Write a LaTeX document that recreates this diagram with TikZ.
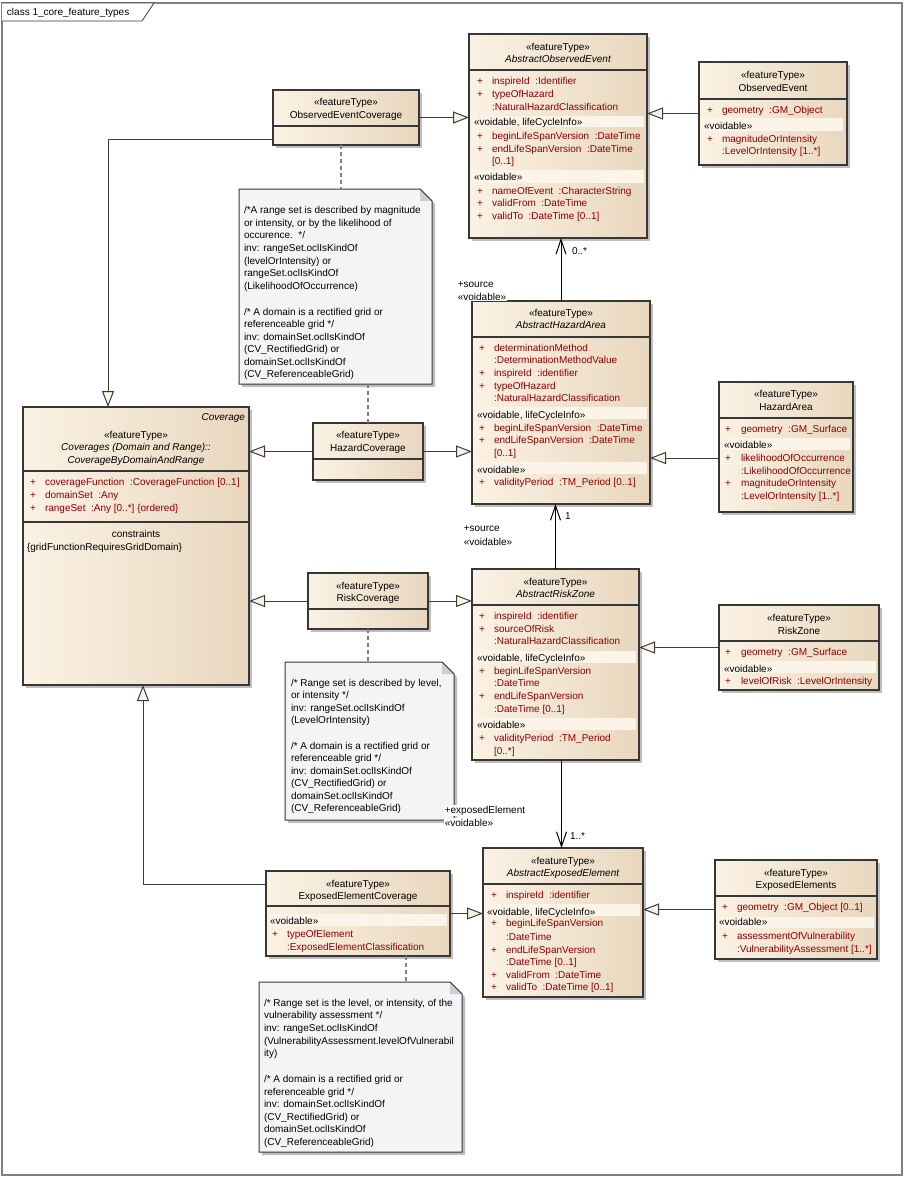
\documentclass[tikz,border=0pt]{standalone}
\usepackage{fontspec}
\setmainfont{Liberation Sans}
\usetikzlibrary{arrows.meta,calc,fit}
\definecolor{clsL}{RGB}{251,242,228}
\definecolor{clsR}{RGB}{232,215,190}
\definecolor{bandc}{RGB}{252,244,232}
\definecolor{attrc}{RGB}{140,0,0}
\definecolor{bordc}{RGB}{55,55,55}
\definecolor{shadc}{RGB}{190,190,190}
\definecolor{notec}{RGB}{246,243,247}
\definecolor{foldc}{RGB}{205,205,210}
\definecolor{framec}{RGB}{128,128,128}
\definecolor{linec}{RGB}{60,60,60}
\newcounter{tn}
\tikzset{
 txt/.style={inner sep=0pt, outer sep=0pt, font=\fontsize{7.5}{9}\selectfont, text=black},
 attr/.style={text=attrc},
 ital/.style={font=\fontsize{7.5}{9}\selectfont\itshape},
 box/.style={inner sep=0pt, outer sep=0pt, draw=bordc, line width=0.8pt, left color=clsL, right color=clsR},
 gen/.style={draw=linec, line width=0.75pt, -{Triangle[length=12pt,width=9pt,fill=clsL]}},
 assoc/.style={draw=black, line width=0.75pt, -{Straight Barb[length=11pt,width=7.5pt]}},
 notelink/.style={draw=gray, line width=0.9pt, dash pattern=on 3pt off 2.25pt},
 lbl/.style={fill=white, inner sep=0.6pt}
}
\newcommand\Ltext[4][]{\stepcounter{tn}\node[txt,anchor=base west,#1] (t\arabic{tn}) at (#2,{#3+3.5}) {#4};}
\newcommand\Ctext[4][]{\stepcounter{tn}\node[txt,anchor=base,#1] (t\arabic{tn}) at (#2,{#3+3.5}) {#4};}
\newcommand\Attr[4]{\Ltext[attr]{#1}{#3}{+}\Ltext[attr]{#2}{#3}{#4}}
\newcommand\Band[4]{\fill[bandc] (#1,#2) rectangle (#3,#4);}
\newcommand\ClsBox[6]{%
  \fill[shadc] ({#2+3},{#3+3}) rectangle ({#4+3},{#5+3});
  \node[box, fit={(#2,#3) (#4,#5)}] (#1) {};
  \draw[bordc, line width=0.8pt] (#2,#6) -- (#4,#6);
}
\newcommand\NoteBox[5]{%
  \fill[shadc] ({#2+3},{#3+3}) -- ({#4+3-12},{#3+3}) -- ({#4+3},{#3+15}) -- ({#4+3},{#5+3}) -- ({#2+3},{#5+3}) -- cycle;
  \node[fit={(#2,#3) (#4,#5)}, inner sep=0pt, outer sep=0pt] (#1) {};
  \filldraw[fill=notec, draw=bordc, line width=0.75pt] (#1.north west) -- ($(#1.north east)+(-12,0)$) -- ($(#1.north east)+(0,12)$) -- (#1.south east) -- (#1.south west) -- cycle;
  \fill[foldc] ($(#1.north east)+(-12,0)$) -- ($(#1.north east)+(-12,12)$) -- ($(#1.north east)+(0,12)$) -- cycle;
  \draw[bordc, line width=0.75pt] ($(#1.north east)+(-12,0)$) -- ($(#1.north east)+(0,12)$);
}
\begin{document}
\begin{tikzpicture}[x=0.75pt,y=-0.75pt]
\fill[white] (0,0) rectangle (921,1203);
\useasboundingbox (0,0) rectangle (921,1203);
% frame
\node[fit={(2,3) (902,1175)}, inner sep=0pt, draw=framec, line width=1.5pt] (frame) {};
\filldraw[fill=white, draw=bordc, line width=0.6pt] (2,3) -- (154,3) -- (142,21) -- (2,21);
\Ltext{7}{12}{class 1\_core\_feature\_types}

% ===== classes =====
\ClsBox{oec}{273}{90}{419}{145}{126}
\Ctext{346}{102}{«featureType»}
\Ctext{346}{115}{ObservedEventCoverage}

\ClsBox{aoe}{469}{34}{647}{238}{70}
\Ctext{558}{47}{«featureType»}
\Ctext[ital]{558}{59}{AbstractObservedEvent}
\Attr{477}{492}{81}{inspireId\ \ :Identifier}
\Attr{477}{492}{94}{typeOfHazard}
\Ltext[attr]{492}{107}{:NaturalHazardClassification}
\Band{473}{116}{644}{127}
\Ltext{474}{122}{«voidable, lifeCycleInfo»}
\Attr{477}{492}{136}{beginLifeSpanVersion\ \ :DateTime}
\Attr{477}{492}{149}{endLifeSpanVersion\ \ :DateTime}
\Ltext[attr]{492}{161}{[0..1]}
\Band{473}{170}{644}{183}
\Ltext{474}{177}{«voidable»}
\Attr{477}{492}{191}{nameOfEvent\ \ :CharacterString}
\Attr{477}{492}{203}{validFrom\ \ :DateTime}
\Attr{477}{492}{216}{validTo\ \ :DateTime [0..1]}

\ClsBox{oe}{699}{62}{847}{165}{99}
\Ctext{773}{75}{«featureType»}
\Ctext{773}{88}{ObservedEvent}
\Attr{707}{722}{110}{geometry\ \ :GM\_Object}
\Band{703}{118}{843}{131}
\Ltext{704}{126}{«voidable»}
\Attr{707}{722}{139}{magnitudeOrIntensity}
\Ltext[attr]{722}{151}{:LevelOrIntensity [1..*]}

\ClsBox{cov}{23}{407}{249}{685}{471}
\Ltext[ital,anchor=base east]{245}{417}{Coverage}
\Ctext{136}{435}{«featureType»}
\Ctext[ital]{136}{447}{Coverages (Domain and Range)::}
\Ctext[ital]{136}{460}{CoverageByDomainAndRange}
\Attr{30}{45}{482}{coverageFunction\ \ :CoverageFunction [0..1]}
\Attr{30}{45}{495}{domainSet\ \ :Any}
\Attr{30}{45}{508}{rangeSet\ \ :Any [0..*] \{ordered\}}
\draw[bordc, line width=0.8pt] (23,522) -- (249,522);
\Ctext{136}{534}{constraints}
\Ltext{27}{547}{\{gridFunctionRequiresGridDomain\}}

\ClsBox{hc}{313}{423}{423}{480}{459}
\Ctext{368}{435}{«featureType»}
\Ctext{368}{448}{HazardCoverage}

\ClsBox{rc}{308}{573}{428}{629}{609}
\Ctext{368}{586}{«featureType»}
\Ctext{368}{598}{RiskCoverage}

\ClsBox{aha}{472}{301}{650}{504}{337}
\Ctext{561}{313}{«featureType»}
\Ctext[ital]{561}{325}{AbstractHazardArea}
\Attr{479}{494}{348}{determinationMethod}
\Ltext[attr]{494}{360}{:DeterminationMethodValue}
\Attr{479}{494}{373}{inspireId\ \ :identifier}
\Attr{479}{494}{386}{typeOfHazard}
\Ltext[attr]{494}{398}{:NaturalHazardClassification}
\Band{476}{407}{647}{419}
\Ltext{477}{415}{«voidable, lifeCycleInfo»}
\Attr{479}{494}{428}{beginLifeSpanVersion\ \ :DateTime}
\Attr{479}{494}{440}{endLifeSpanVersion\ \ :DateTime}
\Ltext[attr]{494}{453}{[0..1]}
\Band{476}{462}{647}{474}
\Ltext{477}{470}{«voidable»}
\Attr{479}{494}{482}{validityPeriod\ \ :TM\_Period [0..1]}

\ClsBox{ha}{719}{382}{853}{512}{418}
\Ctext{786}{394}{«featureType»}
\Ctext{786}{407}{HazardArea}
\Attr{725}{741}{429}{geometry\ \ :GM\_Surface}
\Band{723}{438}{850}{450}
\Ltext{724}{445}{«voidable»}
\Attr{725}{741}{458}{likelihoodOfOccurrence}
\Ltext[attr]{741}{471}{:LikelihoodOfOccurrence}
\Attr{725}{741}{483}{magnitudeOrIntensity}
\Ltext[attr]{741}{496}{:LevelOrIntensity [1..*]}

\ClsBox{arz}{472}{569}{639}{760}{605}
\Ctext{555.5}{582}{«featureType»}
\Ctext[ital]{555.5}{594}{AbstractRiskZone}
\Attr{479}{494}{616}{inspireId\ \ :identifier}
\Attr{479}{494}{629}{sourceOfRisk}
\Ltext[attr]{494}{641}{:NaturalHazardClassification}
\Band{476}{651}{636}{663}
\Ltext{477}{658}{«voidable, lifeCycleInfo»}
\Attr{479}{494}{671}{beginLifeSpanVersion}
\Ltext[attr]{494}{683}{:DateTime}
\Attr{479}{494}{696}{endLifeSpanVersion}
\Ltext[attr]{494}{709}{:DateTime [0..1]}
\Band{476}{718}{636}{730}
\Ltext{477}{725}{«voidable»}
\Attr{479}{494}{738}{validityPeriod\ \ :TM\_Period}
\Ltext[attr]{494}{751}{[0..*]}

\ClsBox{rz}{719}{605}{879}{690}{641}
\Ctext{799}{618}{«featureType»}
\Ctext{799}{631}{RiskZone}
\Attr{725}{741}{652}{geometry\ \ :GM\_Surface}
\Band{723}{661}{876}{673}
\Ltext{724}{669}{«voidable»}
\Attr{725}{741}{681}{levelOfRisk\ \ :LevelOrIntensity}

\ClsBox{aee}{483}{848}{643}{997}{884}
\Ctext{563}{861}{«featureType»}
\Ctext[ital]{563}{873}{AbstractExposedElement}
\Attr{491}{506}{895}{inspireId\ \ :identifier}
\Band{486}{904}{640}{916}
\Ltext{487}{912}{«voidable, lifeCycleInfo»}
\Attr{491}{506}{923}{beginLifeSpanVersion}
\Ltext[attr]{506}{937}{:DateTime}
\Attr{491}{506}{950}{endLifeSpanVersion}
\Ltext[attr]{506}{962}{:DateTime [0..1]}
\Attr{491}{506}{975}{validFrom\ \ :DateTime}
\Attr{491}{506}{987}{validTo\ \ :DateTime [0..1]}

\ClsBox{ees}{715}{860}{877}{959}{896}
\Ctext{796}{873}{«featureType»}
\Ctext{796}{885}{ExposedElements}
\Attr{722}{737}{907}{geometry\ \ :GM\_Object [0..1]}
\Band{718}{917}{874}{928}
\Ltext{719}{922}{«voidable»}
\Attr{722}{737}{936}{assessmentOfVulnerability}
\Ltext[attr]{737}{949}{:VulnerabilityAssessment [1..*]}

\ClsBox{eec}{266}{871}{450}{956}{906}
\Ctext{358}{884}{«featureType»}
\Ctext{358}{896}{ExposedElementCoverage}
\Band{269}{914}{447}{926}
\Ltext{270}{921}{«voidable»}
\Attr{272}{287}{934}{typeOfElement}
\Ltext[attr]{287}{947}{:ExposedElementClassification}

% ===== notes =====
\NoteBox{note1}{239}{189}{432}{384}
\Ltext{244}{210}{/*A range set is described by magnitude}
\Ltext{244}{223}{or intensity, or by the likelihood of}
\Ltext{244}{235}{occurence.\ \ */}
\Ltext{244}{248}{inv: rangeSet.oclIsKindOf}
\Ltext{244}{261}{(levelOrIntensity) or}
\Ltext{244}{273}{rangeSet.oclIsKindOf}
\Ltext{244}{286}{(LikelihoodOfOccurrence)}
\Ltext{244}{312}{/* A domain is a rectified grid or}
\Ltext{244}{324}{referenceable grid */}
\Ltext{244}{337}{inv: domainSet.oclIsKindOf}
\Ltext{244}{349}{(CV\_RectifiedGrid) or}
\Ltext{244}{362}{domainSet.oclIsKindOf}
\Ltext{244}{374}{(CV\_ReferenceableGrid)}

\NoteBox{note2}{285}{662}{454}{820}
\Ltext{291}{683}{/* Range set is described by level,}
\Ltext{291}{695}{or intensity */}
\Ltext{291}{708}{inv: rangeSet.oclIsKindOf}
\Ltext{291}{720}{(LevelOrIntensity)}
\Ltext{291}{746}{/* A domain is a rectified grid or}
\Ltext{291}{758}{referenceable grid */}
\Ltext{291}{771}{inv: domainSet.oclIsKindOf}
\Ltext{291}{783}{(CV\_RectifiedGrid) or}
\Ltext{291}{796}{domainSet.oclIsKindOf}
\Ltext{291}{808}{(CV\_ReferenceableGrid)}

\NoteBox{note3}{259}{982}{462}{1152}
\Ltext{264}{1003}{/* Range set is the level, or intensity, of the}
\Ltext{264}{1015}{vulnerability assessment */}
\Ltext{264}{1028}{inv: rangeSet.oclIsKindOf}
\Ltext{264}{1041}{(VulnerabilityAssessment.levelOfVulnerabil}
\Ltext{264}{1053}{ity)}
\Ltext{264}{1079}{/* A domain is a rectified grid or}
\Ltext{264}{1092}{referenceable grid */}
\Ltext{264}{1104}{inv: domainSet.oclIsKindOf}
\Ltext{264}{1117}{(CV\_RectifiedGrid) or}
\Ltext{264}{1129}{domainSet.oclIsKindOf}
\Ltext{264}{1142}{(CV\_ReferenceableGrid)}

% ===== generalizations =====
\draw[gen] (oe.west) -- (aoe.east |- oe.west);
\draw[gen] (oec.east) -- (aoe.west |- oec.east);
\draw[gen] (hc.west) -- (cov.east |- hc.west);
\draw[gen] (hc.east) -- (aha.west |- hc.east);
\draw[gen] (rc.west) -- (cov.east |- rc.west);
\draw[gen] (rc.east) -- (arz.west |- rc.east);
\coordinate (haL) at ($(ha.west)+(0,11)$);
\draw[gen] (haL) -- (aha.east |- haL);
\draw[gen] (rz.west) -- (arz.east |- rz.west);
\draw[gen] (ees.west) -- (aee.east |- ees.west);
\draw[gen] (eec.east) -- (aee.west |- eec.east);
\coordinate (oecL) at ($(oec.west)+(0,21.5)$);
\coordinate (covT) at ($(cov.north)+(-28,0)$);
\draw[gen] (oecL) -| (covT);
\coordinate (eecL) at ($(eec.west)+(0,-29.5)$);
\coordinate (covB) at ($(cov.south)+(7,0)$);
\draw[gen] (eecL) -| (covB);

% ===== associations =====
\draw[assoc] (aha.north) -- (aha.north |- aoe.south);
\draw[assoc] (arz.north) -- (arz.north |- aha.south);
\coordinate (arzB) at ($(arz.south)+(6,0)$);
\draw[assoc] (arzB) -- (arzB |- aee.north);

% ===== note links =====
\coordinate (oecS) at ($(oec.south)+(-5,0)$);
\draw[notelink] (oecS) -- (oecS |- note1.north);
\draw[notelink] (hc.north) -- (hc.north |- note1.south);
\draw[notelink] (rc.south) -- (rc.south |- note2.north);
\coordinate (eecS) at ($(eec.south)+(48,0)$);
\draw[notelink] (eecS) -- (eecS |- note3.north);

% ===== role labels =====
\Ltext[lbl]{457}{284}{+source}
\Ltext[lbl]{457}{297}{«voidable»}
\Ltext{572}{251}{0..*}
\Ltext{565}{516}{1}
\Ltext[lbl]{463}{528}{+source}
\Ltext[lbl]{463}{542}{«voidable»}
\Ltext[lbl]{444}{810}{+exposedElement}
\Ltext[lbl]{444}{823}{«voidable»}
\Ltext{570}{836}{1..*}
\end{tikzpicture}
\end{document}
